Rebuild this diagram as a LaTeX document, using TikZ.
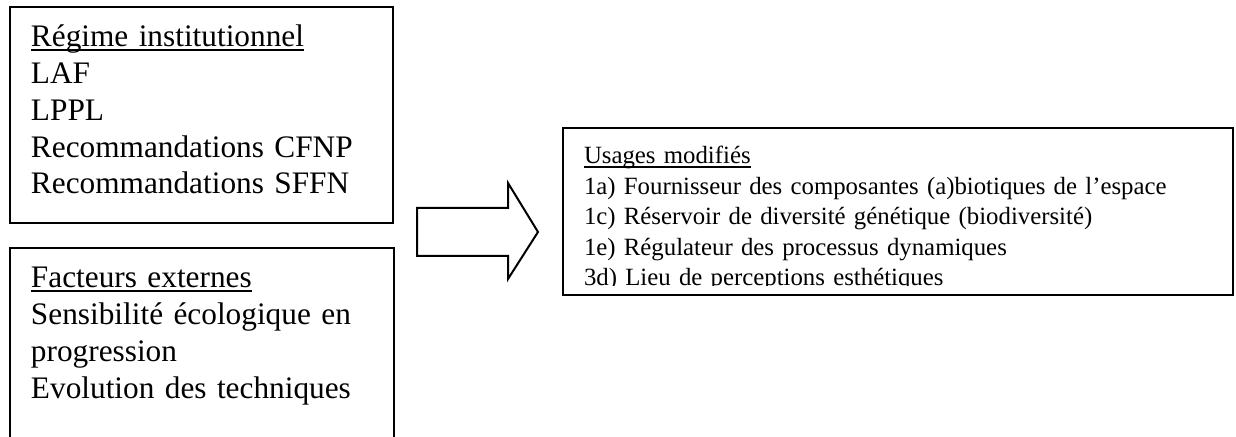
\documentclass[tikz,border=0pt]{standalone}
\usepackage{fontspec}
\setmainfont{Liberation Serif}
\newcommand{\souligne}[1]{\setbox0\hbox{#1}\rlap{\rule[-2pt]{\wd0}{0.9pt}}#1}

\begin{document}
\begin{tikzpicture}[x=0.5pt, y=-0.5pt, line width=1pt]
        \clip (0,0) rectangle (1236,437);
        \begin{scope}[every node/.style={rectangle,draw=black,line width=1pt,inner sep=0}]
            \node (regime) [minimum width=191.5pt, minimum height=108pt] at (201.5,115) {};
            \node (facteurs) [minimum width=192pt, minimum height=106pt] at (202,354) {};
            \node (usages) [minimum width=335pt, minimum height=83.5pt] at (898,211.5) {};
        \end{scope}

        % grande fleche
        \draw[line join=miter] (417,208) -- (508,208) -- (508,183) -- (538,232)
            -- (508,279) -- (508,256) -- (417,256) -- cycle;

        \begin{scope}[every node/.style={anchor=base west,inner sep=0,text width=300pt,align=left,
                      font=\fontsize{15.65pt}{18.35pt}\selectfont}]
            \node (regimetxt) at (30,47) {\souligne{Régime institutionnel}\\LAF\\LPPL\\Recommandations CFNP\\Recommandations SFFN};
            \node (facteurstxt) at (30,288) {\souligne{Facteurs externes}\\Sensibilité écologique en\\progression\\Evolution des techniques};
        \end{scope}
        \begin{scope}[every node/.style={anchor=base west,inner sep=0,text width=320pt,align=left,
                      font=\fontsize{12.4pt}{15.25pt}\selectfont}]
            \clip (565,130) rectangle (1231,286);
            \node (usagestxt) at (583,164) {\souligne{Usages modifiés}\\1a) Fournisseur des composantes (a)biotiques de l’espace\\1c) Réservoir de diversité génétique (biodiversité)\\1e) Régulateur des processus dynamiques\\3d) Lieu de perceptions esthétiques};
        \end{scope}
    \end{tikzpicture}
\end{document}
